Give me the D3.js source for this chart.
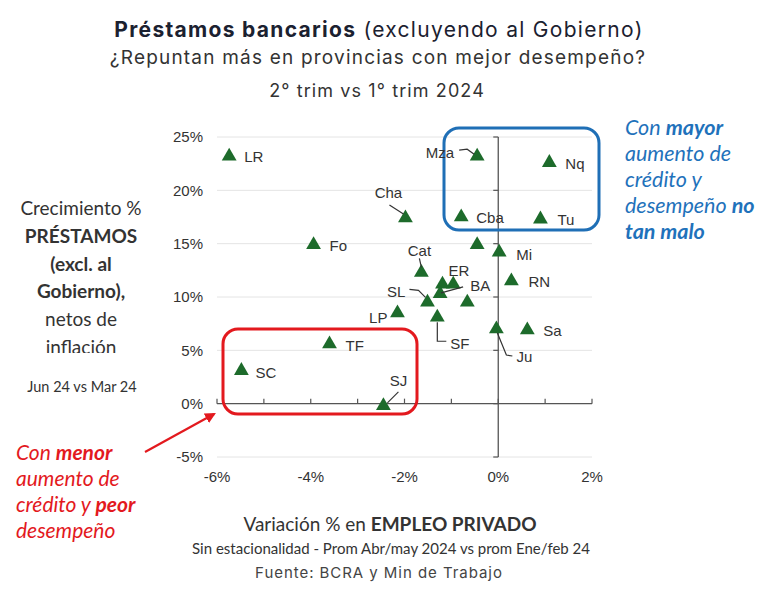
<!DOCTYPE html>
<html><head><meta charset="utf-8">
<script src="https://cdn.jsdelivr.net/npm/d3@7"></script>
<style>
body{margin:0;background:#fff;}
svg{display:block;}
</style></head>
<body>
<svg id="chart" width="773" height="605"></svg>
<script>
// ---- data ----
const provinces = ["LR","Fo","Cha","Mza","Nq","Cba","Tu","","Mi","RN","Cat","ER","","BA","SL","","SF","LP","Ju","Sa","TF","SC","SJ"];
const empleo    = [-5.74,-3.94,-1.98,-0.45,1.09,-0.79,0.90,-0.45,0.02,0.28,-1.64,-1.19,-0.96,-1.24,-1.51,-0.66,-1.30,-2.15,-0.04,0.62,-3.60,-5.48,-2.45];
const prestamos = [23.2,14.9,17.4,23.2,22.6,17.5,17.3,14.9,14.2,11.5,12.3,11.2,11.2,10.3,9.5,9.5,8.1,8.5,7.0,6.9,5.6,3.1,-0.2];
const xTicks = [-6,-4,-2,0,2];
const xMinor = [-6,-5,-4,-3,-2,-1,0,1,2];
const yTicks = [25,20,15,10,5,0,-5];
const tickLabel = v => v + "%";

// ---- label layout (styling) ----
const labelLayout = {
  LR:{dx:15,dy:1,a:"start"}, Fo:{dx:16,dy:1,a:"start"}, Nq:{dx:16,dy:1,a:"start"},
  Cba:{dx:15,dy:1,a:"start"}, Tu:{dx:17,dy:1,a:"start"}, Mi:{dx:17,dy:3,a:"start"},
  RN:{dx:17,dy:1,a:"start"}, Sa:{dx:16,dy:1,a:"start"}, TF:{dx:16,dy:2,a:"start"},
  SC:{dx:14,dy:2,a:"start"}, LP:{dx:-10,dy:5,a:"end"},
  Cha:{dx:-17,dy:-25,a:"middle",lead:[[-16,-13],[-2,-4]]},
  Mza:{dx:-23,dy:-3,a:"end",lead:[[-18,-6],[-10,-7],[-3,-2]]},
  Cat:{dx:-2,dy:-22,a:"middle",lead:[[-2,-14],[0,-5]]},
  ER:{dx:6,dy:-13,a:"start"},
  BA:{dx:30,dy:-8,a:"start",lead:[[23,-7],[1,-1]]},
  SL:{dx:-22,dy:-11,a:"end",lead:[[-18,-13],[-9,-12],[-2,-5]]},
  SF:{dx:13,dy:26,a:"start",lead:[[0,5],[0,24],[9,24]]},
  Ju:{dx:20,dy:28,a:"start",lead:[[1,4],[10,26],[16,27]]},
  SJ:{dx:15,dy:-25,a:"middle",lead:[[15,-14],[4,-3]]}
};

const svg = d3.select("#chart");
const x = d3.scaleLinear().domain([-6,2]).range([217,592]);
const y = d3.scaleLinear().domain([-5,25]).range([457,137]);

// gridlines
svg.append("g").selectAll("line").data(yTicks.filter(d=>d!==0)).join("line")
  .attr("x1",x(-6)).attr("x2",x(2)).attr("y1",d=>y(d)).attr("y2",d=>y(d))
  .attr("stroke","#e4e4e4").attr("stroke-width",1);

// y tick labels
svg.append("g").selectAll("text").data(yTicks).join("text")
  .attr("x",203).attr("y",d=>y(d)).attr("dy","0.35em").attr("text-anchor","end")
  .attr("font-family","Liberation Sans, Arial, sans-serif").attr("font-size",15).attr("fill","#333")
  .text(tickLabel);
// x tick labels
svg.append("g").selectAll("text").data(xTicks).join("text")
  .attr("x",d=>x(d)).attr("y",477).attr("dy","0.35em").attr("text-anchor","middle")
  .attr("font-family","Liberation Sans, Arial, sans-serif").attr("font-size",15).attr("fill","#333")
  .text(tickLabel);

// zero axes
const axCol = "#555";
svg.append("line").attr("x1",x(-6)).attr("x2",x(2)).attr("y1",y(0)).attr("y2",y(0)).attr("stroke",axCol).attr("stroke-width",1.3);
svg.append("g").selectAll("line").data(xMinor).join("line")
  .attr("x1",d=>x(d)).attr("x2",d=>x(d)).attr("y1",y(0)).attr("y2",y(0)-5).attr("stroke",axCol).attr("stroke-width",1.2);
svg.append("line").attr("x1",x(0)).attr("x2",x(0)).attr("y1",y(25)).attr("y2",y(-5)).attr("stroke",axCol).attr("stroke-width",1.3);
svg.append("g").selectAll("line").data(yTicks).join("line")
  .attr("x1",x(0)-5).attr("x2",x(0)).attr("y1",d=>y(d)).attr("y2",d=>y(d)).attr("stroke",axCol).attr("stroke-width",1.2);

// highlight boxes
svg.append("rect").attr("x",223).attr("y",329).attr("width",194).attr("height",85).attr("rx",15)
  .attr("fill","none").attr("stroke","#e3191e").attr("stroke-width",3);
svg.append("rect").attr("x",444).attr("y",128).attr("width",155).attr("height",102).attr("rx",15)
  .attr("fill","none").attr("stroke","#1f6fb6").attr("stroke-width",3);

// points
const pts = provinces.map((p,i)=>({name:p, ex:empleo[i], pr:prestamos[i]}));
const tri = d3.symbol().type(d3.symbolTriangle).size(95);
svg.append("g").selectAll("path").data(pts).join("path")
  .attr("d",tri).attr("transform",d=>`translate(${x(d.ex)},${y(d.pr)})`)
  .attr("fill","#1d6b2b");

// leader lines
const lab = pts.filter(d=>d.name && labelLayout[d.name]);
svg.append("g").selectAll("polyline").data(lab.filter(d=>labelLayout[d.name].lead)).join("polyline")
  .attr("points",d=>labelLayout[d.name].lead.map(p=>[x(d.ex)+p[0],y(d.pr)+p[1]].join(",")).join(" "))
  .attr("fill","none").attr("stroke","#333").attr("stroke-width",1.2);
// labels
svg.append("g").selectAll("text").data(lab).join("text")
  .attr("x",d=>x(d.ex)+labelLayout[d.name].dx).attr("y",d=>y(d.pr)+labelLayout[d.name].dy)
  .attr("dy","0.35em").attr("text-anchor",d=>labelLayout[d.name].a)
  .attr("font-family","Liberation Sans, Arial, sans-serif").attr("font-size",15).attr("fill","#333")
  .text(d=>d.name);

// red arrow
const defs = svg.append("defs");
defs.append("marker").attr("id","ah").attr("viewBox","0 0 10 10").attr("refX",8).attr("refY",5)
  .attr("markerWidth",5).attr("markerHeight",5).attr("orient","auto")
  .append("path").attr("d","M0,0L10,5L0,10z").attr("fill","#e3191e");
svg.append("line").attr("x1",145).attr("y1",452).attr("x2",214).attr("y2",414)
  .attr("stroke","#e3191e").attr("stroke-width",2.2).attr("marker-end","url(#ah)");
defs.append("clipPath").attr("id","leftclip").append("rect").attr("x",0).attr("y",190).attr("width",170).attr("height",163);

// titles
const T = svg.append("text").attr("x",379).attr("y",37).attr("text-anchor","middle")
  .attr("font-family","Inter, sans-serif").attr("font-size",21).attr("letter-spacing",1.3).attr("fill","#1b2130");
T.append("tspan").attr("font-weight","bold").text("Préstamos bancarios");
T.append("tspan").text(" (excluyendo al Gobierno)");
svg.append("text").attr("x",378).attr("y",64).attr("text-anchor","middle")
  .attr("font-family","Inter, sans-serif").attr("font-size",19).attr("letter-spacing",1.2).attr("fill","#333")
  .text("¿Repuntan más en provincias con mejor desempeño?");
svg.append("text").attr("x",377).attr("y",97).attr("text-anchor","middle")
  .attr("font-family","Inter, sans-serif").attr("font-size",18).attr("letter-spacing",1.1).attr("fill","#333")
  .text("2° trim vs 1° trim 2024");

// left y title
const leftLines = [["Crecimiento %",false],["PRÉSTAMOS",true],["(excl. al",true],["Gobierno),",true],["netos de",false],["inflación",false]];
svg.append("g").attr("clip-path","url(#leftclip)").selectAll("text").data(leftLines).join("text")
  .attr("x",81).attr("y",(d,i)=>215+i*27.8).attr("text-anchor","middle")
  .attr("font-family","Lato, sans-serif").attr("font-size",19).attr("fill","#333")
  .attr("font-weight",d=>d[1]?"bold":"normal").text(d=>d[0]);
svg.append("text").attr("x",82).attr("y",392).attr("text-anchor","middle")
  .attr("font-family","Lato, sans-serif").attr("font-size",14.5).attr("fill","#333").text("Jun 24 vs Mar 24");

// red annotation
const redLines = [[["Con ",false],["menor",true]],[["aumento de",false]],[["crédito y ",false],["peor",true]],[["desempeño",false]]];
redLines.forEach((ln,i)=>{
  const t = svg.append("text").attr("x",16).attr("y",460+i*26)
    .attr("font-family","Lato, sans-serif").attr("font-size",21).attr("font-style","italic").attr("fill","#e3191e");
  ln.forEach(s=>t.append("tspan").attr("font-weight",s[1]?"bold":"normal").text(s[0]));
});
// blue annotation
const blueLines = [[["Con ",false],["mayor",true]],[["aumento de",false]],[["crédito y",false]],[["desempeño ",false],["no",true]],[["tan malo",true]]];
blueLines.forEach((ln,i)=>{
  const t = svg.append("text").attr("x",625).attr("y",135+i*26)
    .attr("font-family","Lato, sans-serif").attr("font-size",21.5).attr("font-style","italic").attr("fill","#1f72bb");
  ln.forEach(s=>t.append("tspan").attr("font-weight",s[1]?"bold":"normal").text(s[0]));
});

// x title
const X = svg.append("text").attr("x",390).attr("y",531).attr("text-anchor","middle")
  .attr("font-family","Lato, sans-serif").attr("font-size",19).attr("fill","#333");
X.append("tspan").text("Variación % en ");
X.append("tspan").attr("font-weight","bold").text("EMPLEO PRIVADO");
svg.append("text").attr("x",391).attr("y",554).attr("text-anchor","middle")
  .attr("font-family","Lato, sans-serif").attr("font-size",15).attr("fill","#333")
  .text("Sin estacionalidad - Prom Abr/may 2024 vs prom Ene/feb 24");
svg.append("text").attr("x",379).attr("y",578).attr("text-anchor","middle")
  .attr("font-family","Inter, sans-serif").attr("font-size",15).attr("letter-spacing",0.95).attr("fill","#444")
  .text("Fuente: BCRA y Min de Trabajo");
</script>
</body></html>
